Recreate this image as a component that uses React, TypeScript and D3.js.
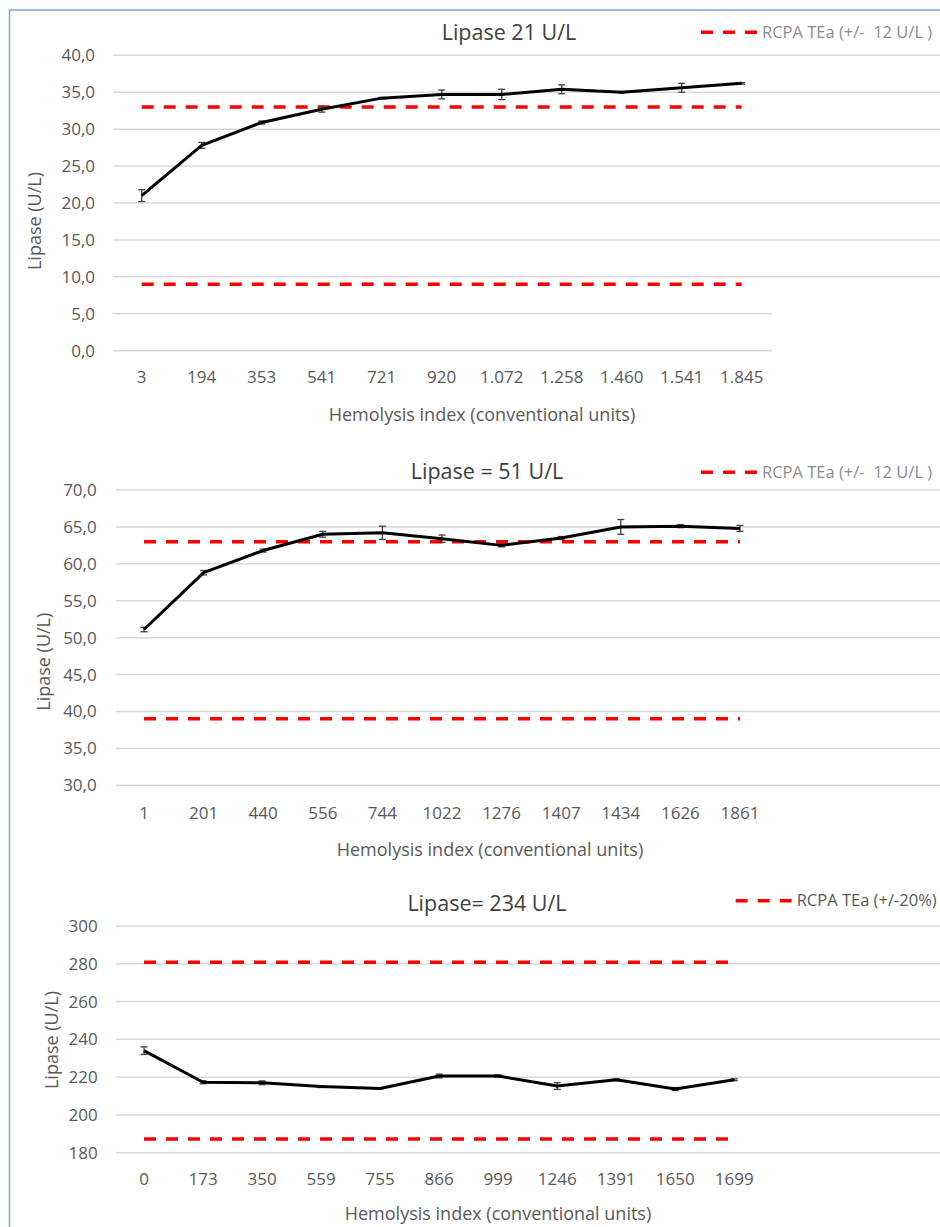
import React from "react";
import * as d3 from "d3";

// ---------- Data ----------
const cats1 = ["3", "194", "353", "541", "721", "920", "1.072", "1.258", "1.460", "1.541", "1.845"];
const vals1 = [21.0, 27.8, 30.9, 32.7, 34.2, 34.7, 34.7, 35.4, 35.0, 35.6, 36.2];
const errs1 = [0.8, 0.4, 0.2, 0.4, 0.1, 0.6, 0.7, 0.6, 0.1, 0.6, 0.1];
const limits1 = [33.0, 9.0];
const ticks1 = [0, 5, 10, 15, 20, 25, 30, 35, 40];

const cats2 = ["1", "201", "440", "556", "744", "1022", "1276", "1407", "1434", "1626", "1861"];
const vals2 = [51.1, 58.8, 61.8, 64.0, 64.2, 63.4, 62.5, 63.5, 65.0, 65.1, 64.8];
const errs2 = [0.3, 0.3, 0.2, 0.4, 0.9, 0.5, 0.2, 0.2, 1.0, 0.2, 0.4];
const limits2 = [63.0, 39.0];
const ticks2 = [30, 35, 40, 45, 50, 55, 60, 65, 70];

const cats3 = ["0", "173", "350", "559", "755", "866", "999", "1246", "1391", "1650", "1699"];
const vals3 = [234.0, 217.3, 217.0, 215.0, 214.0, 220.6, 220.6, 215.3, 218.6, 213.7, 218.6];
const errs3 = [2.0, 0.8, 1.0, 0.5, 0.3, 1.0, 0.6, 1.8, 0.5, 0.8, 0.5];
const limits3 = [280.8, 187.2];
const ticks3 = [180, 200, 220, 240, 260, 280, 300];

const titles = ["Lipase 21 U/L", "Lipase = 51 U/L", "Lipase= 234 U/L"];
const legends = ["RCPA TEa (+/-  12 U/L )", "RCPA TEa (+/-  12 U/L )", "RCPA TEa (+/-20%)"];
const yTitle = "Lipase (U/L)";
const xTitle = "Hemolysis index (conventional units)";

const FONT = "'Open Sans', 'Noto Sans', sans-serif";
const TXT = "#595959";
const GRID = "#d9d9d9";

type PanelProps = {
  cats: string[];
  vals: number[];
  errs: number[];
  limits: number[];
  ticks: number[];
  fmt: (v: number) => string;
  title: string;
  legend: string;
  legendColor: string;
  legendSize: number;
  legendX: number;
  legendY: number;
  titleX: number;
  titleY: number;
  yDomain: [number, number];
  yRange: [number, number];
  xRange: [number, number];
  gridStart: number;
  gridEndFull: number;
  shortGridVals: number[];
  shortGridEnd: number;
  tickLabelX: number;
  xLabelY: number;
  xTitleX: number;
  xTitleY: number;
  yTitleX: number;
  yTitleY: number;
};

function Panel(p: PanelProps) {
  const x = d3.scaleBand<string>().domain(p.cats).range(p.xRange).paddingInner(0).paddingOuter(0);
  const cx = (c: string) => (x(c) as number) + x.bandwidth() / 2;
  const y = d3.scaleLinear().domain(p.yDomain).range(p.yRange);
  const line = d3
    .line<number>()
    .x((_, i) => cx(p.cats[i]))
    .y((v) => y(v));
  const x0 = cx(p.cats[0]);
  const x1 = cx(p.cats[p.cats.length - 1]);
  return (
    <g>
      {p.ticks.map((t) => (
        <g key={t}>
          <line
            x1={p.gridStart}
            x2={p.shortGridVals.includes(t) ? p.shortGridEnd : p.gridEndFull}
            y1={y(t)}
            y2={y(t)}
            stroke={GRID}
            strokeWidth={1.5}
          />
          <text
            x={p.tickLabelX}
            y={y(t)}
            dy="0.35em"
            textAnchor="end"
            fontSize={17}
            fill={TXT}
            fontFamily={FONT}
          >
            {p.fmt(t)}
          </text>
        </g>
      ))}
      {p.cats.map((c) => (
        <text
          key={c}
          x={cx(c)}
          y={p.xLabelY}
          dy="0.35em"
          textAnchor="middle"
          fontSize={17}
          fill={TXT}
          fontFamily={FONT}
        >
          {c}
        </text>
      ))}
      {p.limits.map((l, i) => (
        <line
          key={i}
          x1={x0}
          x2={x1}
          y1={y(l)}
          y2={y(l)}
          stroke="#ff0000"
          strokeWidth={3.5}
          strokeDasharray="12,10"
        />
      ))}
      {p.vals.map((v, i) => {
        const xc = cx(p.cats[i]);
        const e = p.errs[i];
        return (
          <g key={i} stroke="#404040" strokeWidth={1.3}>
            <line x1={xc} x2={xc} y1={y(v - e)} y2={y(v + e)} />
            <line x1={xc - 3.5} x2={xc + 3.5} y1={y(v - e)} y2={y(v - e)} />
            <line x1={xc - 3.5} x2={xc + 3.5} y1={y(v + e)} y2={y(v + e)} />
          </g>
        );
      })}
      <path d={line(p.vals) || ""} fill="none" stroke="#000" strokeWidth={3} strokeLinejoin="round" />
      <text
        x={p.titleX}
        y={p.titleY}
        dy="0.35em"
        textAnchor="middle"
        fontSize={21.5}
        fill="#404040"
        fontFamily={FONT}
      >
        {p.title}
      </text>
      <line
        x1={p.legendX}
        x2={p.legendX + 56}
        y1={p.legendY}
        y2={p.legendY}
        stroke="#ff0000"
        strokeWidth={3.5}
        strokeDasharray="12,10"
      />
      <text
        x={p.legendX + 61}
        y={p.legendY}
        dy="0.35em"
        fontSize={p.legendSize}
        fill={p.legendColor}
        fontFamily={FONT}
        style={{ whiteSpace: "pre" }}
      >
        {p.legend}
      </text>
      <text
        x={p.xTitleX}
        y={p.xTitleY}
        dy="0.35em"
        textAnchor="middle"
        fontSize={18}
        fill={TXT}
        fontFamily={FONT}
      >
        {xTitle}
      </text>
      <text
        transform={`translate(${p.yTitleX},${p.yTitleY}) rotate(-90)`}
        dy="0.35em"
        textAnchor="middle"
        fontSize={18}
        fill={TXT}
        fontFamily={FONT}
      >
        {yTitle}
      </text>
    </g>
  );
}

const fmtComma = (v: number) => v.toFixed(1).replace(".", ",");
const fmtInt = (v: number) => String(v);

export default function App() {
  return (
    <svg
      width={940}
      height={1227}
      style={{ position: "absolute", left: 0, top: 0, background: "#fff" }}
    >
      <rect x={0} y={0} width={940} height={1227} fill="#fff" />
      <rect x={9.5} y={10} width={940} height={1240} fill="none" stroke="#7f9fcf" strokeWidth={1.5} />
      <Panel
        cats={cats1}
        vals={vals1}
        errs={errs1}
        limits={limits1}
        ticks={ticks1}
        fmt={fmtComma}
        title={titles[0]}
        legend={legends[0]}
        legendColor="#8c8c8c"
        legendSize={16.5}
        legendX={701}
        legendY={32.3}
        titleX={509}
        titleY={32}
        yDomain={[0, 40]}
        yRange={[350.7, 55.3]}
        xRange={[111.7, 771.7]}
        gridStart={113}
        gridEndFull={940}
        shortGridVals={[0, 5]}
        shortGridEnd={772}
        tickLabelX={95}
        xLabelY={376.7}
        xTitleX={482}
        xTitleY={415}
        yTitleX={35}
        yTitleY={221}
      />
      <Panel
        cats={cats2}
        vals={vals2}
        errs={errs2}
        limits={limits2}
        ticks={ticks2}
        fmt={fmtComma}
        title={titles[1]}
        legend={legends[1]}
        legendColor="#8c8c8c"
        legendSize={16.5}
        legendX={701}
        legendY={472.3}
        titleX={487}
        titleY={471.7}
        yDomain={[30, 70]}
        yRange={[785.3, 490]}
        xRange={[114.2, 769.8]}
        gridStart={115.7}
        gridEndFull={940}
        shortGridVals={[]}
        shortGridEnd={940}
        tickLabelX={96.7}
        xLabelY={813.3}
        xTitleX={490}
        xTitleY={850}
        yTitleX={44}
        yTitleY={661.7}
      />
      <Panel
        cats={cats3}
        vals={vals3}
        errs={errs3}
        limits={limits3}
        ticks={ticks3}
        fmt={fmtInt}
        title={titles[2]}
        legend={legends[2]}
        legendColor="#595959"
        legendSize={16.5}
        legendX={735.7}
        legendY={900.7}
        titleX={487}
        titleY={903.3}
        yDomain={[180, 300]}
        yRange={[1152.7, 926]}
        xRange={[114.5, 763.8]}
        gridStart={115.7}
        gridEndFull={940}
        shortGridVals={[]}
        shortGridEnd={940}
        tickLabelX={97.7}
        xLabelY={1179.3}
        xTitleX={498}
        xTitleY={1213.3}
        yTitleX={51.7}
        yTitleY={1040}
      />
    </svg>
  );
}
